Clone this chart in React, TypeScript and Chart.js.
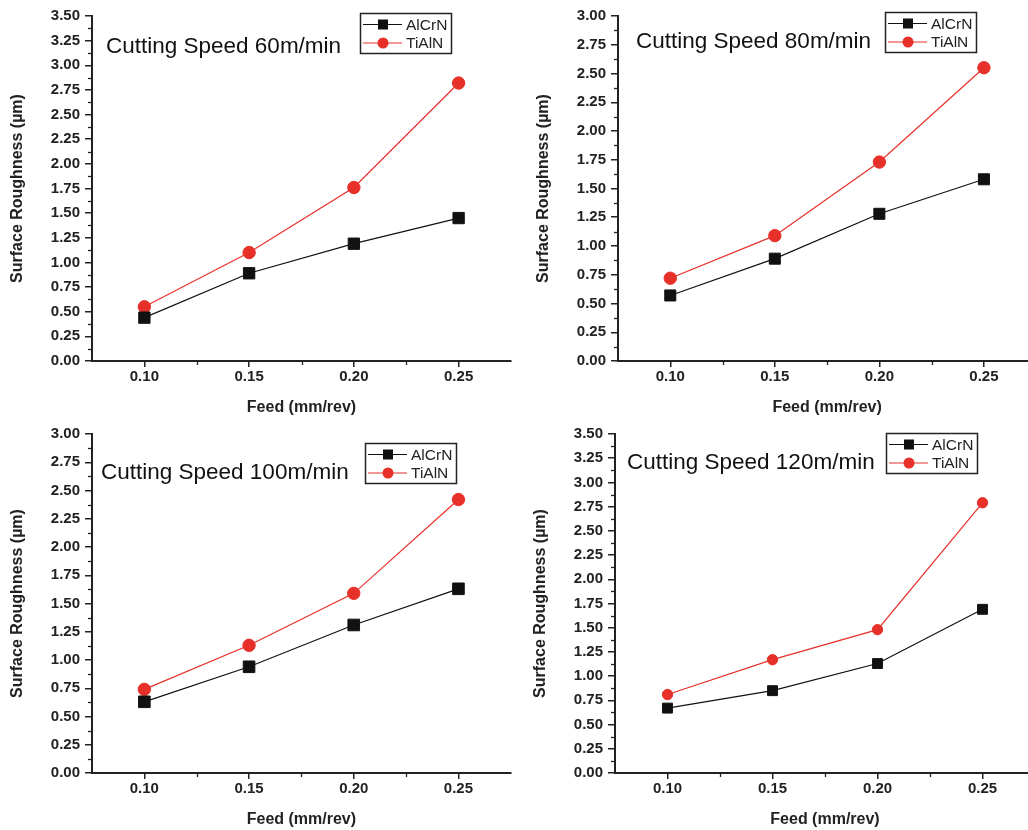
import React, { useEffect, useRef } from 'react';
import { Chart, registerables } from 'chart.js';

Chart.register(...registerables);

// ---------- data ----------
const feed = [0.1, 0.15, 0.2, 0.25];
const feedTicks = [0.1, 0.15, 0.2, 0.25];
const seriesNames = ['AlCrN', 'TiAlN'];

const alcrn60 = [0.44, 0.89, 1.19, 1.45];
const tialn60 = [0.55, 1.1, 1.76, 2.82];
const alcrn80 = [0.57, 0.89, 1.28, 1.58];
const tialn80 = [0.72, 1.09, 1.73, 2.55];
const alcrn100 = [0.63, 0.94, 1.31, 1.63];
const tialn100 = [0.74, 1.13, 1.59, 2.42];
const alcrn120 = [0.67, 0.85, 1.13, 1.69];
const tialn120 = [0.81, 1.17, 1.48, 2.79];

const yTicks350 = [0, 0.25, 0.5, 0.75, 1, 1.25, 1.5, 1.75, 2, 2.25, 2.5, 2.75, 3, 3.25, 3.5];
const yTicks300 = [0, 0.25, 0.5, 0.75, 1, 1.25, 1.5, 1.75, 2, 2.25, 2.5, 2.75, 3];

const panelTitles = [
  'Cutting Speed 60m/min',
  'Cutting Speed 80m/min',
  'Cutting Speed 100m/min',
  'Cutting Speed 120m/min',
];
const xTitle = 'Feed (mm/rev)';
const yTitle = 'Surface Roughness (\u00b5m)';

// ---------- styles / layout ----------
const FONT = "'Liberation Sans', Arial, sans-serif";
const BLACK = '#111111';
const RED = '#e8302a';
const AXIS = '#222222';

type Panel = {
  left: number; top: number; width: number; height: number;
  area: { l: number; t: number; r: number; b: number };
  yTicks: number[];
  alcrn: number[]; tialn: number[];
  title: string; titleX: number; titleY: number;
  legX: number; legY: number;
  sq: number; circ: number;
};

const panels: Panel[] = [
  {
    left: 0, top: 0, width: 520, height: 420,
    area: { l: 92, t: 16, r: 515, b: 361 },
    yTicks: yTicks350, alcrn: alcrn60, tialn: tialn60,
    title: panelTitles[0], titleX: 106, titleY: 53,
    legX: 360, legY: 13, sq: 8, circ: 6.2,
  },
  {
    left: 520, top: 0, width: 525, height: 420,
    area: { l: 98, t: 16, r: 521, b: 361 },
    yTicks: yTicks300, alcrn: alcrn80, tialn: tialn80,
    title: panelTitles[1], titleX: 116, titleY: 48,
    legX: 365, legY: 12, sq: 7.8, circ: 6.2,
  },
  {
    left: 0, top: 420, width: 520, height: 410,
    area: { l: 92, t: 12, r: 512, b: 353 },
    yTicks: yTicks300, alcrn: alcrn100, tialn: tialn100,
    title: panelTitles[2], titleX: 101, titleY: 59,
    legX: 365, legY: 23, sq: 8.2, circ: 6.2,
  },
  {
    left: 520, top: 420, width: 525, height: 410,
    area: { l: 95, t: 13, r: 515, b: 353 },
    yTicks: yTicks350, alcrn: alcrn120, tialn: tialn120,
    title: panelTitles[3], titleX: 107, titleY: 49,
    legX: 366, legY: 13, sq: 7, circ: 5.2,
  },
];

function PanelChart({ p }: { p: Panel }) {
  const ref = useRef<HTMLCanvasElement | null>(null);
  useEffect(() => {
    const canvas = ref.current;
    if (!canvas) return;
    const yMax = p.yTicks[p.yTicks.length - 1];
    const decor = {
      id: 'decor' + p.title.length,
      afterDraw(chart: any) {
        const ctx = chart.ctx as CanvasRenderingContext2D;
        const a = chart.chartArea;
        const xs = chart.scales.x;
        const ys = chart.scales.y;
        ctx.save();
        // minor ticks
        ctx.strokeStyle = AXIS;
        ctx.lineWidth = 1.3;
        for (let i = 0; i < p.yTicks.length - 1; i++) {
          const v = (p.yTicks[i] + p.yTicks[i + 1]) / 2;
          const y = Math.round(ys.getPixelForValue(v)) + 0.5;
          ctx.beginPath();
          ctx.moveTo(a.left - 4, y);
          ctx.lineTo(a.left, y);
          ctx.stroke();
        }
        for (let i = 0; i < feedTicks.length - 1; i++) {
          const v = (feedTicks[i] + feedTicks[i + 1]) / 2;
          const x = Math.round(xs.getPixelForValue(v)) + 0.5;
          ctx.beginPath();
          ctx.moveTo(x, a.bottom);
          ctx.lineTo(x, a.bottom + 4);
          ctx.stroke();
        }
        // axis titles
        ctx.fillStyle = AXIS;
        ctx.font = `bold 16px ${FONT}`;
        ctx.textAlign = 'center';
        ctx.textBaseline = 'middle';
        ctx.fillText(xTitle, (a.left + a.right) / 2, a.bottom + 47);
        ctx.save();
        ctx.translate(a.left - 74, (a.top + a.bottom) / 2);
        ctx.rotate(-Math.PI / 2);
        ctx.fillText(yTitle, 0, 0);
        ctx.restore();
        // panel title
        ctx.fillStyle = '#111';
        ctx.font = `22.5px ${FONT}`;
        ctx.textAlign = 'left';
        ctx.textBaseline = 'alphabetic';
        ctx.fillText(p.title, p.titleX, p.titleY);
        // legend
        const bx = p.legX, by = p.legY, bw = 91, bh = 40;
        ctx.strokeStyle = '#222';
        ctx.lineWidth = 1.5;
        ctx.strokeRect(bx + 0.5, by + 0.5, bw, bh);
        const rows = [by + 11.5, by + 30];
        const colors = [BLACK, RED];
        for (let i = 0; i < 2; i++) {
          const ry = rows[i];
          ctx.strokeStyle = colors[i];
          ctx.lineWidth = 1.2;
          ctx.beginPath();
          ctx.moveTo(bx + 3, ry);
          ctx.lineTo(bx + 42, ry);
          ctx.stroke();
          ctx.fillStyle = colors[i];
          const mx = bx + 23;
          if (i === 0) {
            ctx.fillRect(mx - 5, ry - 5, 10, 10);
          } else {
            ctx.beginPath();
            ctx.arc(mx, ry, 5.5, 0, Math.PI * 2);
            ctx.fill();
          }
          ctx.fillStyle = '#222';
          ctx.font = `15.5px ${FONT}`;
          ctx.textBaseline = 'middle';
          ctx.fillText(seriesNames[i], bx + 46, ry + 1);
        }
        ctx.restore();
      },
    };

    const chart = new Chart(canvas, {
      type: 'line',
      data: {
        datasets: [
          {
            label: seriesNames[0],
            data: feed.map((f, i) => ({ x: f, y: p.alcrn[i] })),
            borderColor: BLACK,
            backgroundColor: BLACK,
            borderWidth: 1.2,
            pointStyle: 'rect',
            pointRadius: p.sq,
            pointBorderWidth: 1,
            pointBackgroundColor: BLACK,
            pointBorderColor: BLACK,
          },
          {
            label: seriesNames[1],
            data: feed.map((f, i) => ({ x: f, y: p.tialn[i] })),
            borderColor: RED,
            backgroundColor: RED,
            borderWidth: 1.2,
            pointStyle: 'circle',
            pointRadius: p.circ,
            pointBorderWidth: 1,
            pointBackgroundColor: RED,
            pointBorderColor: RED,
          },
        ],
      },
      options: {
        animation: false,
        responsive: false,
        events: [],
        layout: {
          padding: { left: 0, top: p.area.t, right: p.width - p.area.r, bottom: 0 },
        },
        plugins: { legend: { display: false }, tooltip: { enabled: false }, title: { display: false } },
        scales: {
          x: {
            type: 'linear',
            min: 0.075,
            max: 0.275,
            afterBuildTicks: (s: any) => { s.ticks = feedTicks.map((v) => ({ value: v })); },
            afterFit: (s: any) => { s.height = p.height - p.area.b; },
            border: { display: true, color: AXIS, width: 2 },
            grid: { display: true, drawOnChartArea: false, drawTicks: true, tickLength: 6, color: AXIS, lineWidth: 1.5 },
            ticks: {
              color: AXIS,
              font: { family: FONT, size: 15, weight: 'bold' },
              padding: 1,
              maxRotation: 0,
              autoSkip: false,
              callback: (v: any) => Number(v).toFixed(2),
            },
          },
          y: {
            type: 'linear',
            min: 0,
            max: yMax,
            afterBuildTicks: (s: any) => { s.ticks = p.yTicks.map((v) => ({ value: v })); },
            afterFit: (s: any) => { s.width = p.area.l; },
            border: { display: true, color: AXIS, width: 2 },
            grid: { display: true, drawOnChartArea: false, drawTicks: true, tickLength: 7, color: AXIS, lineWidth: 1.5 },
            ticks: {
              color: AXIS,
              font: { family: FONT, size: 15, weight: 'bold' },
              padding: 5,
              autoSkip: false,
              callback: (v: any) => Number(v).toFixed(2),
            },
          },
        },
      },
      plugins: [decor],
    } as any);
    return () => chart.destroy();
  }, [p]);

  return (
    <canvas
      ref={ref}
      width={p.width}
      height={p.height}
      style={{ position: 'absolute', left: p.left, top: p.top, width: p.width, height: p.height, display: 'block' }}
    />
  );
}

export default function App() {
  return (
    <div
      style={{
        position: 'absolute', left: 0, top: 0, width: 1028, height: 830,
        overflow: 'hidden', background: '#ffffff',
      }}
    >
      {panels.map((p, i) => (
        <PanelChart key={i} p={p} />
      ))}
    </div>
  );
}
